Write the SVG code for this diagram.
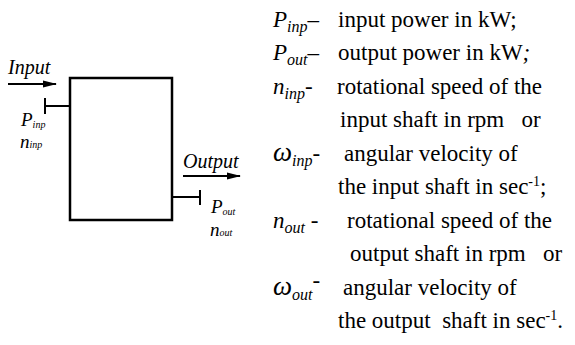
<svg xmlns="http://www.w3.org/2000/svg" width="575" height="345" viewBox="0 0 575 345" xml:space="preserve">
<style>
text{font-family:"Liberation Serif","Times New Roman","DejaVu Serif",serif;fill:#000;white-space:pre}
.t{font-size:23px}
.i{font-style:italic}
.sub{font-size:16px;font-style:italic}
.lab{font-style:italic}
.ln{stroke:#000;stroke-width:2;fill:none}
</style>
<defs>
<marker id="ah" viewBox="0 0 14 10" refX="13" refY="5" markerWidth="7" markerHeight="5" orient="auto" markerUnits="strokeWidth">
<path d="M0,1.5 L14,5 L0,8.5 z" fill="#000"/>
</marker>
</defs>
<g id="block">
<rect x="70" y="78" width="102" height="142" fill="none" stroke="#000" stroke-width="2.5"/>
</g>
<g id="input">
<text class="lab" x="8" y="74" font-size="20">Input</text>
<text class="lab" x="21" y="126" font-size="19">P<tspan font-size="10" dy="2">inp</tspan></text>
<text class="lab" x="20" y="148" font-size="19">n<tspan font-size="10">inp</tspan></text>
</g>
<g id="output">
<text class="lab" x="183" y="168" font-size="20">Output</text>
<text class="lab" x="211" y="213" font-size="19">P<tspan font-size="10" dy="2">out</tspan></text>
<text class="lab" x="210" y="236" font-size="19">n<tspan font-size="10">out</tspan></text>
</g>
<g id="connectors">
<line class="ln" x1="8" y1="84" x2="56" y2="84" marker-end="url(#ah)"/>
<line class="ln" x1="45" y1="106" x2="70" y2="106"/>
<line class="ln" x1="45" y1="98" x2="45" y2="114"/>
<line class="ln" x1="183" y1="176" x2="240" y2="176" marker-end="url(#ah)"/>
<line class="ln" x1="172" y1="197" x2="200" y2="197"/>
<line class="ln" x1="200" y1="190" x2="200" y2="205"/>
</g>
<g id="legend" class="t">
<text x="273" y="27"><tspan class="i">P</tspan><tspan class="sub" dy="5">inp</tspan><tspan dy="-5">–</tspan></text>
<text x="338" y="27">input power in kW;</text>
<text x="273" y="60"><tspan class="i">P</tspan><tspan class="sub" dy="5">out</tspan><tspan dy="-5">–</tspan></text>
<text x="338" y="60">output power in kW<tspan class="i">;</tspan></text>
<text x="273" y="94"><tspan class="i">n</tspan><tspan class="sub" dy="5">inp</tspan><tspan dy="-5">-</tspan></text>
<text x="337" y="94">rotational speed of the</text>
<text x="340" y="127">input shaft in rpm   or</text>
<text x="273" y="161"><tspan class="i" font-size="27">ω</tspan><tspan class="sub" dy="5">inp</tspan><tspan dy="-5">-</tspan></text>
<text x="344" y="161">angular velocity of</text>
<text x="338" y="194">the input shaft in sec<tspan font-size="14" dy="-8">-1</tspan><tspan dy="8">;</tspan></text>
<text x="273" y="228"><tspan class="i">n</tspan><tspan class="sub" dy="5">out</tspan><tspan dy="-5"> -</tspan></text>
<text x="347" y="228">rotational speed of the</text>
<text x="350" y="261">output shaft in rpm   or</text>
<text x="273" y="295"><tspan class="i" font-size="27">ω</tspan><tspan class="sub" dy="5">out</tspan><tspan dy="-12">-</tspan></text>
<text x="343" y="295">angular velocity of</text>
<text x="338" y="328">the output  shaft in sec<tspan font-size="14" dy="-8">-1</tspan><tspan dy="8">.</tspan></text>
</g>
</svg>
